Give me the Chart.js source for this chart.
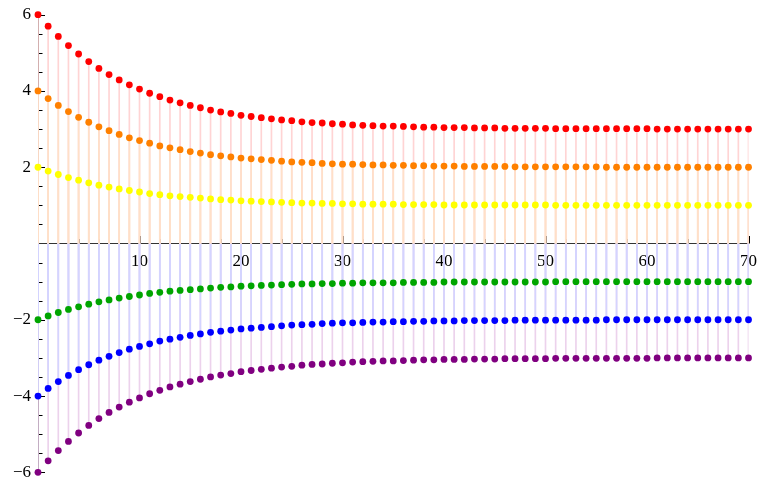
<!DOCTYPE html>
<html>
<head>
<meta charset="utf-8">
<script src="https://cdn.jsdelivr.net/npm/chart.js@4.4.0/dist/chart.umd.min.js"></script>
<style>
  html, body { margin: 0; padding: 0; background: #fff; }
  #wrap { width: 757px; height: 482px; position: relative; }
</style>
</head>
<body>
<div id="wrap"><canvas id="chart"></canvas></div>
<script>
// Six sequences indexed n = 0..70
const redVals = [
  6.00,5.70,5.43,5.19,4.97,4.77,4.59,4.43,4.29,4.16,
  4.05,3.94,3.85,3.76,3.69,3.62,3.56,3.50,3.45,3.41,
  3.36,3.33,3.30,3.27,3.24,3.22,3.19,3.17,3.16,3.14,
  3.13,3.11,3.10,3.09,3.08,3.08,3.07,3.06,3.05,3.05,
  3.04,3.04,3.04,3.03,3.03,3.03,3.02,3.02,3.02,3.02,
  3.02,3.01,3.01,3.01,3.01,3.01,3.01,3.01,3.01,3.01,
  3.01,3.00,3.00,3.00,3.00,3.00,3.00,3.00,3.00,3.00,
  3.00
];
const orangeVals = [
  4.00,3.80,3.62,3.46,3.31,3.18,3.06,2.96,2.86,2.77,
  2.70,2.63,2.56,2.51,2.46,2.41,2.37,2.33,2.30,2.27,
  2.24,2.22,2.20,2.18,2.16,2.14,2.13,2.12,2.10,2.09,
  2.08,2.08,2.07,2.06,2.06,2.05,2.05,2.04,2.04,2.03,
  2.03,2.03,2.02,2.02,2.02,2.02,2.02,2.01,2.01,2.01,
  2.01,2.01,2.01,2.01,2.01,2.01,2.00,2.00,2.00,2.00,
  2.00,2.00,2.00,2.00,2.00,2.00,2.00,2.00,2.00,2.00,
  2.00
];
const yellowVals = [
  2.00,1.90,1.81,1.73,1.66,1.59,1.53,1.48,1.43,1.39,
  1.35,1.31,1.28,1.25,1.23,1.21,1.19,1.17,1.15,1.14,
  1.12,1.11,1.10,1.09,1.08,1.07,1.06,1.06,1.05,1.05,
  1.04,1.04,1.03,1.03,1.03,1.03,1.02,1.02,1.02,1.02,
  1.01,1.01,1.01,1.01,1.01,1.01,1.01,1.01,1.01,1.01,
  1.01,1.00,1.00,1.00,1.00,1.00,1.00,1.00,1.00,1.00,
  1.00,1.00,1.00,1.00,1.00,1.00,1.00,1.00,1.00,1.00,
  1.00
];
const greenVals = [
  -2.00,-1.90,-1.81,-1.73,-1.66,-1.59,-1.53,-1.48,-1.43,-1.39,
  -1.35,-1.31,-1.28,-1.25,-1.23,-1.21,-1.19,-1.17,-1.15,-1.14,
  -1.12,-1.11,-1.10,-1.09,-1.08,-1.07,-1.06,-1.06,-1.05,-1.05,
  -1.04,-1.04,-1.03,-1.03,-1.03,-1.03,-1.02,-1.02,-1.02,-1.02,
  -1.01,-1.01,-1.01,-1.01,-1.01,-1.01,-1.01,-1.01,-1.01,-1.01,
  -1.01,-1.00,-1.00,-1.00,-1.00,-1.00,-1.00,-1.00,-1.00,-1.00,
  -1.00,-1.00,-1.00,-1.00,-1.00,-1.00,-1.00,-1.00,-1.00,-1.00,
  -1.00
];
const blueVals = [
  -4.00,-3.80,-3.62,-3.46,-3.31,-3.18,-3.06,-2.96,-2.86,-2.77,
  -2.70,-2.63,-2.56,-2.51,-2.46,-2.41,-2.37,-2.33,-2.30,-2.27,
  -2.24,-2.22,-2.20,-2.18,-2.16,-2.14,-2.13,-2.12,-2.10,-2.09,
  -2.08,-2.08,-2.07,-2.06,-2.06,-2.05,-2.05,-2.04,-2.04,-2.03,
  -2.03,-2.03,-2.02,-2.02,-2.02,-2.02,-2.02,-2.01,-2.01,-2.01,
  -2.01,-2.01,-2.01,-2.01,-2.01,-2.01,-2.00,-2.00,-2.00,-2.00,
  -2.00,-2.00,-2.00,-2.00,-2.00,-2.00,-2.00,-2.00,-2.00,-2.00,
  -2.00
];
const purpleVals = [
  -6.00,-5.70,-5.43,-5.19,-4.97,-4.77,-4.59,-4.43,-4.29,-4.16,
  -4.05,-3.94,-3.85,-3.76,-3.69,-3.62,-3.56,-3.50,-3.45,-3.41,
  -3.36,-3.33,-3.30,-3.27,-3.24,-3.22,-3.19,-3.17,-3.16,-3.14,
  -3.13,-3.11,-3.10,-3.09,-3.08,-3.08,-3.07,-3.06,-3.05,-3.05,
  -3.04,-3.04,-3.04,-3.03,-3.03,-3.03,-3.02,-3.02,-3.02,-3.02,
  -3.02,-3.01,-3.01,-3.01,-3.01,-3.01,-3.01,-3.01,-3.01,-3.01,
  -3.01,-3.00,-3.00,-3.00,-3.00,-3.00,-3.00,-3.00,-3.00,-3.00,
  -3.00
];

// Axis tick values
const xTickStep = 10;
const yTickStep = 2;

const toPoints = vals => vals.map((v, n) => ({ x: n, y: v }));

// [values, dot colour, stem colour]; shorter stems sit on top of longer ones
const seriesDefs = [
  [redVals,    '#ff0000', '#ffd4d4'],
  [orangeVals, '#ff8000', '#ffe0c8'],
  [yellowVals, '#ffff00', '#ffe0c8'],
  [greenVals,  '#00a500', '#d4d4ff'],
  [blueVals,   '#0000ff', '#d4d4ff'],
  [purpleVals, '#800080', '#ecd2ec']
];

const datasets = [];
seriesDefs.forEach(([vals, dot]) => {
  datasets.push({
    type: 'scatter',
    data: toPoints(vals),
    pointRadius: 3.4,
    pointHoverRadius: 3.4,
    pointBackgroundColor: dot,
    pointBorderWidth: 0,
    showLine: false,
    clip: false,
    order: 1
  });
});
seriesDefs.forEach(([vals, dot, stem], i) => {
  // outer series get a higher order so they are drawn first
  const depth = (i === 0 || i === 5) ? 10 : (i === 1 || i === 4) ? 9 : 8;
  datasets.push({
    type: 'bar',
    data: toPoints(vals),
    backgroundColor: stem,
    borderWidth: 0,
    barThickness: 1,
    grouped: false,
    order: depth
  });
});

// Inward-pointing major and minor tick marks on both axes
const tickMarks = {
  id: 'tickMarks',
  beforeDatasetsDraw(chart) {
    const { ctx, scales: { x, y } } = chart;
    const x0 = x.getPixelForValue(0);
    const y0 = y.getPixelForValue(0);
    ctx.save();
    ctx.strokeStyle = '#000';
    ctx.lineWidth = 1;
    ctx.beginPath();
    for (let v = -6; v <= 6.001; v += 0.5) {
      if (Math.abs(v) < 1e-9) continue;
      const py = Math.round(y.getPixelForValue(v)) + 0.5;
      const len = (Math.abs(v % 2) < 1e-9) ? 7 : 4.5;
      ctx.moveTo(x0, py);
      ctx.lineTo(x0 + len, py);
    }
    for (let v = 2; v <= 70; v += 2) {
      const px = Math.round(x.getPixelForValue(v)) + 0.5;
      const len = (v % 10 === 0) ? 7.5 : 4.5;
      ctx.moveTo(px, y0);
      ctx.lineTo(px, y0 - len);
    }
    ctx.stroke();
    ctx.restore();
  }
};

const tickFont = { family: '"Liberation Serif", "DejaVu Serif", serif', size: 17 };
const fmt = v => (v === 0 ? '' : (v < 0 ? '\u2212' + Math.abs(v) : String(v)));

new Chart(document.getElementById('chart'), {
  type: 'scatter',
  data: { datasets },
  plugins: [tickMarks],
  options: {
    responsive: true,
    maintainAspectRatio: false,
    animation: false,
    events: [],
    layout: { padding: { left: 0, right: 8.5, top: 14.7, bottom: 9.7 } },
    plugins: { legend: { display: false }, tooltip: { enabled: false } },
    scales: {
      x: {
        type: 'linear',
        position: { y: 0 },
        min: 0, max: 70,
        offset: false,
        afterFit(scale) {
          scale.height = 0;
          scale.paddingLeft = 0;
          scale.paddingRight = 0;
        },
        grid: { display: false, drawTicks: false, offset: false },
        border: { display: true, color: '#333', width: 1 },
        ticks: {
          stepSize: xTickStep,
          color: '#000',
          font: tickFont,
          padding: 8,
          maxRotation: 0,
          callback: fmt
        }
      },
      y: {
        type: 'linear',
        position: 'left',
        min: -6, max: 6,
        afterFit(scale) {
          scale.width = 38;
          scale.paddingTop = 0;
          scale.paddingBottom = 0;
        },
        grid: { display: false, drawTicks: false },
        border: { display: true, color: '#000', width: 1 },
        ticks: {
          stepSize: yTickStep,
          color: '#000',
          font: tickFont,
          padding: 7,
          callback: fmt
        }
      }
    }
  }
});
</script>
</body>
</html>
